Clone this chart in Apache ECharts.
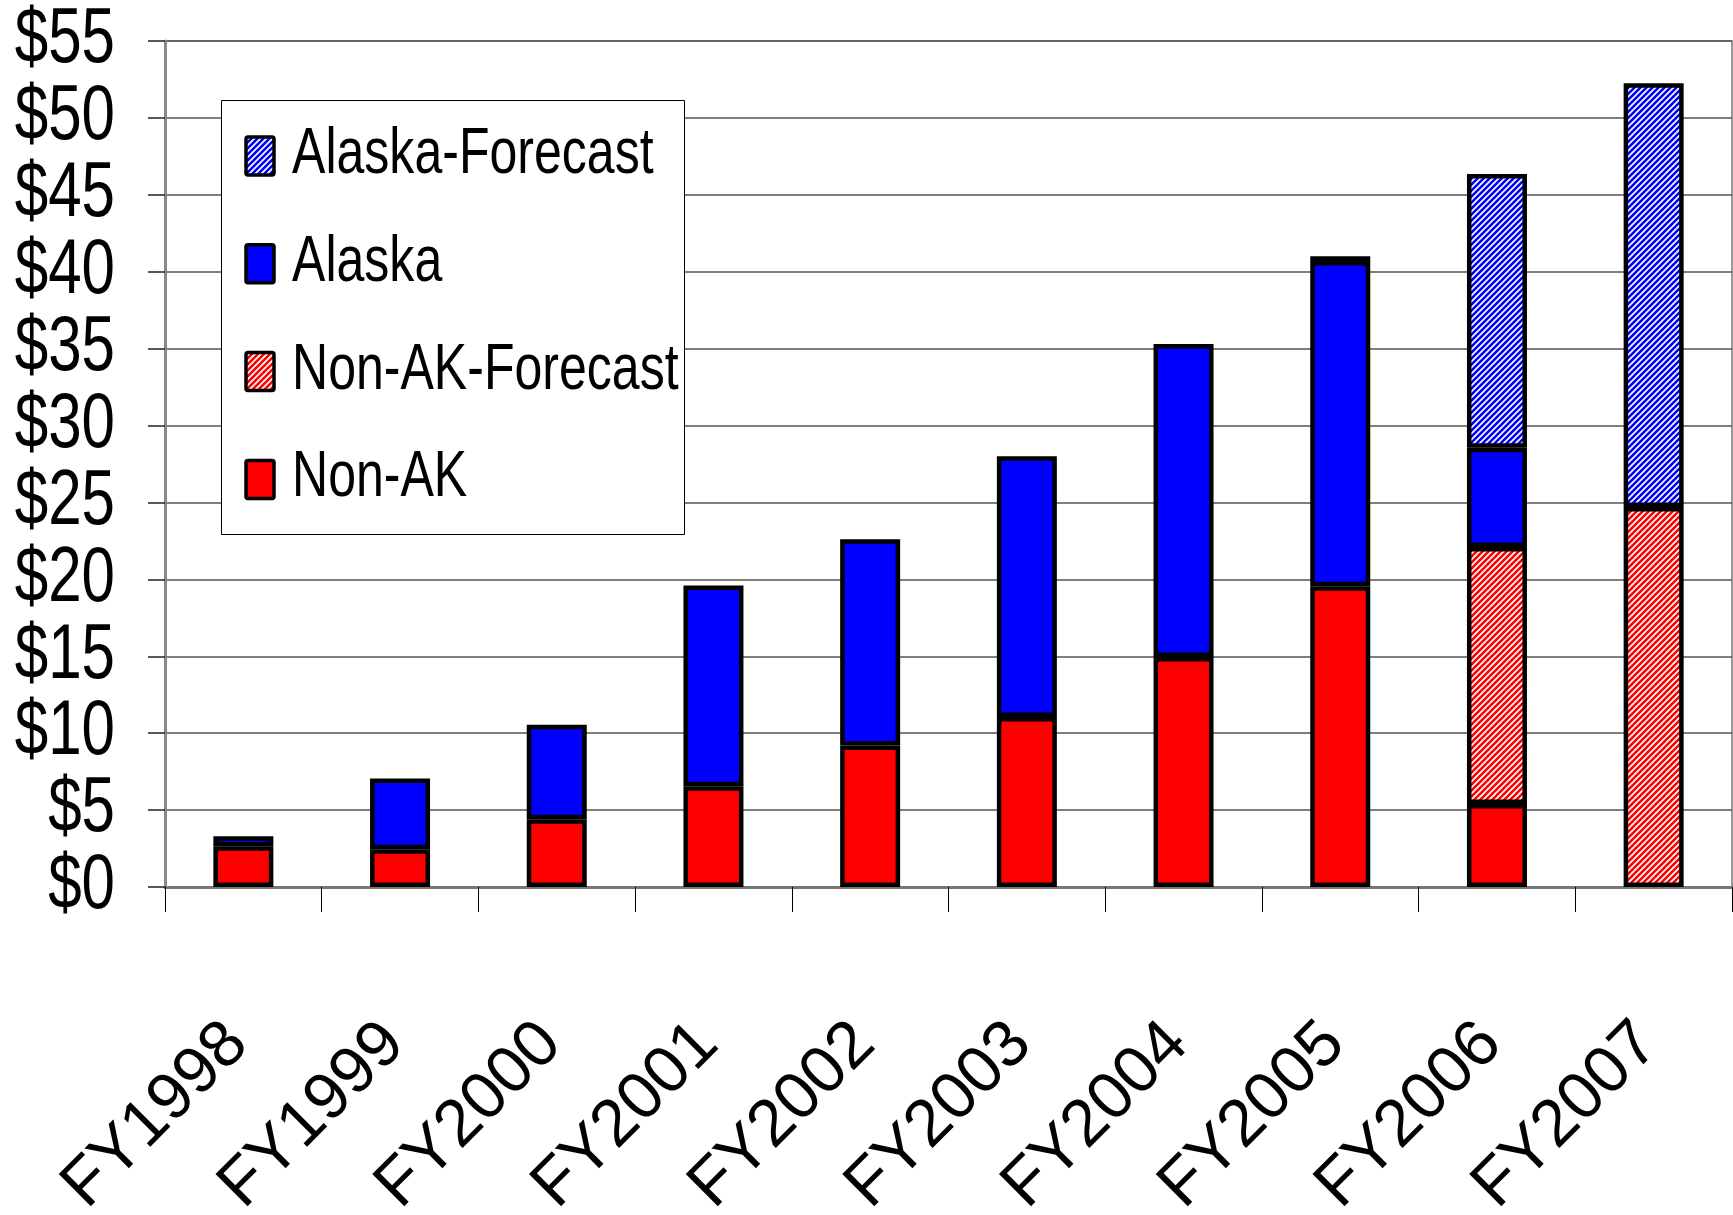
<!DOCTYPE html>
<html>
<head>
<meta charset="utf-8">
<script src="https://cdn.jsdelivr.net/npm/echarts@6/dist/echarts.min.js"></script>
<style>
html,body{margin:0;padding:0;background:#fff;}
#chart{width:1733px;height:1215px;}
</style>
</head>
<body>
<div id="chart"></div>
<script>
const categories = ['FY1998','FY1999','FY2000','FY2001','FY2002','FY2003','FY2004','FY2005','FY2006','FY2007'];
const nonAK          = [2.65, 2.45, 4.4, 6.55, 9.2, 11.05, 14.95, 19.55, 5.4, 0];
const nonAKForecast  = [0, 0, 0, 0, 0, 0, 0, 0, 16.7, 24.7];
const alaska         = [0.65, 4.6, 6.15, 13.05, 13.4, 16.95, 20.35, 21.15, 6.45, 0];
const alaskaForecast = [0, 0, 0, 0, 0, 0, 0, 0.3, 17.8, 27.55];
const legendNames = ['Alaska-Forecast', 'Alaska', 'Non-AK-Forecast', 'Non-AK'];
const yTicks = { min: 0, max: 55, interval: 5 };
const yTickValues = [0, 5, 10, 15, 20, 25, 30, 35, 40, 45, 50, 55];
const yTickLabels = ['$0', '$5', '$10', '$15', '$20', '$25', '$30', '$35', '$40', '$45', '$50', '$55'];

function hatch(color) {
  const c = document.createElement('canvas');
  c.width = 6; c.height = 6;
  const g = c.getContext('2d');
  g.fillStyle = '#fff';
  g.fillRect(0, 0, 6, 6);
  g.strokeStyle = color;
  g.lineWidth = 2.6;
  g.beginPath();
  g.moveTo(-1, 7); g.lineTo(7, -1);
  g.moveTo(-4, 4); g.lineTo(4, -4);
  g.moveTo(2, 10); g.lineTo(10, 2);
  g.stroke();
  return { image: c, repeat: 'repeat' };
}

const fills = {
  'Non-AK': '#ff0000',
  'Non-AK-Forecast': hatch('#ff0000'),
  'Alaska': '#0000ff',
  'Alaska-Forecast': hatch('#0000ff')
};

const FONT = "'Liberation Sans', Arial, sans-serif";
const chart = echarts.init(document.getElementById('chart'), null, { renderer: 'canvas' });

function mk(name, data) {
  return {
    name: name,
    type: 'bar',
    stack: 'total',
    barWidth: 60,
    data: data.map(v => (v === 0 ? '-' : v)),
    itemStyle: { color: fills[name], borderColor: '#000', borderWidth: 4.5 },
    emphasis: { disabled: true }
  };
}

chart.setOption({
  animation: false,
  backgroundColor: '#fff',
  grid: { left: 165, right: 1, top: 41, bottom: 328, outerBoundsMode: 'none', containLabel: false,
          show: true, borderColor: '#999', borderWidth: 2, backgroundColor: 'transparent' },
  xAxis: {
    type: 'category',
    data: categories,
    axisLine: { lineStyle: { color: '#777', width: 3 } },
    axisTick: { show: true, length: 25, lineStyle: { color: '#000', width: 1 } },
    axisLabel: { rotate: 45, margin: 141, padding: [0, 8, 0, 0], fontFamily: FONT, fontSize: 66, color: '#000', interval: 0 },
    splitLine: { show: false }
  },
  yAxis: {
    type: 'value',
    min: yTicks.min,
    max: yTicks.max,
    interval: yTicks.interval,
    axisLine: { show: true, lineStyle: { color: '#888', width: 3 } },
    axisTick: { show: true, length: 17, lineStyle: { color: '#222', width: 1.5 } },
    axisLabel: { show: false },
    splitLine: { show: true, lineStyle: { color: '#555', width: 1.5 } }
  },
  series: [
    mk('Non-AK', nonAK),
    mk('Non-AK-Forecast', nonAKForecast),
    mk('Alaska', alaska),
    mk('Alaska-Forecast', alaskaForecast)
  ]
});

// Narrow (condensed) y-axis labels, positioned through the axis scale
const graphics = [];
yTickValues.forEach((v, i) => {
  const py = chart.convertToPixel({ yAxisIndex: 0 }, v);
  graphics.push({
    type: 'text', x: 115, y: py, scaleX: 0.78, z: 10,
    style: { text: yTickLabels[i], fontSize: 77, fontFamily: FONT, fill: '#000',
             align: 'right', verticalAlign: 'middle', textAlign: 'right', textVerticalAlign: 'middle' }
  });
});

// Legend box
graphics.push({
  type: 'rect', z: 20,
  shape: { x: 221.5, y: 100.5, width: 463, height: 434 },
  style: { fill: '#fff', stroke: '#000', lineWidth: 1 }
});
legendNames.forEach((name, i) => {
  const cy = 156 + i * 107.8;
  graphics.push({
    type: 'rect', z: 21,
    shape: { x: 246, y: cy - 19, width: 28, height: 38, r: 2 },
    style: { fill: fills[name], stroke: '#000', lineWidth: 3.5 }
  });
  graphics.push({
    type: 'text', x: 292, y: cy - 1, scaleX: 0.77, z: 21,
    style: { text: name, fontSize: 65, fontFamily: FONT, fill: '#000',
             align: 'left', verticalAlign: 'middle', textAlign: 'left', textVerticalAlign: 'middle' }
  });
});

chart.setOption({ graphic: { elements: graphics } });
</script>
</body>
</html>
